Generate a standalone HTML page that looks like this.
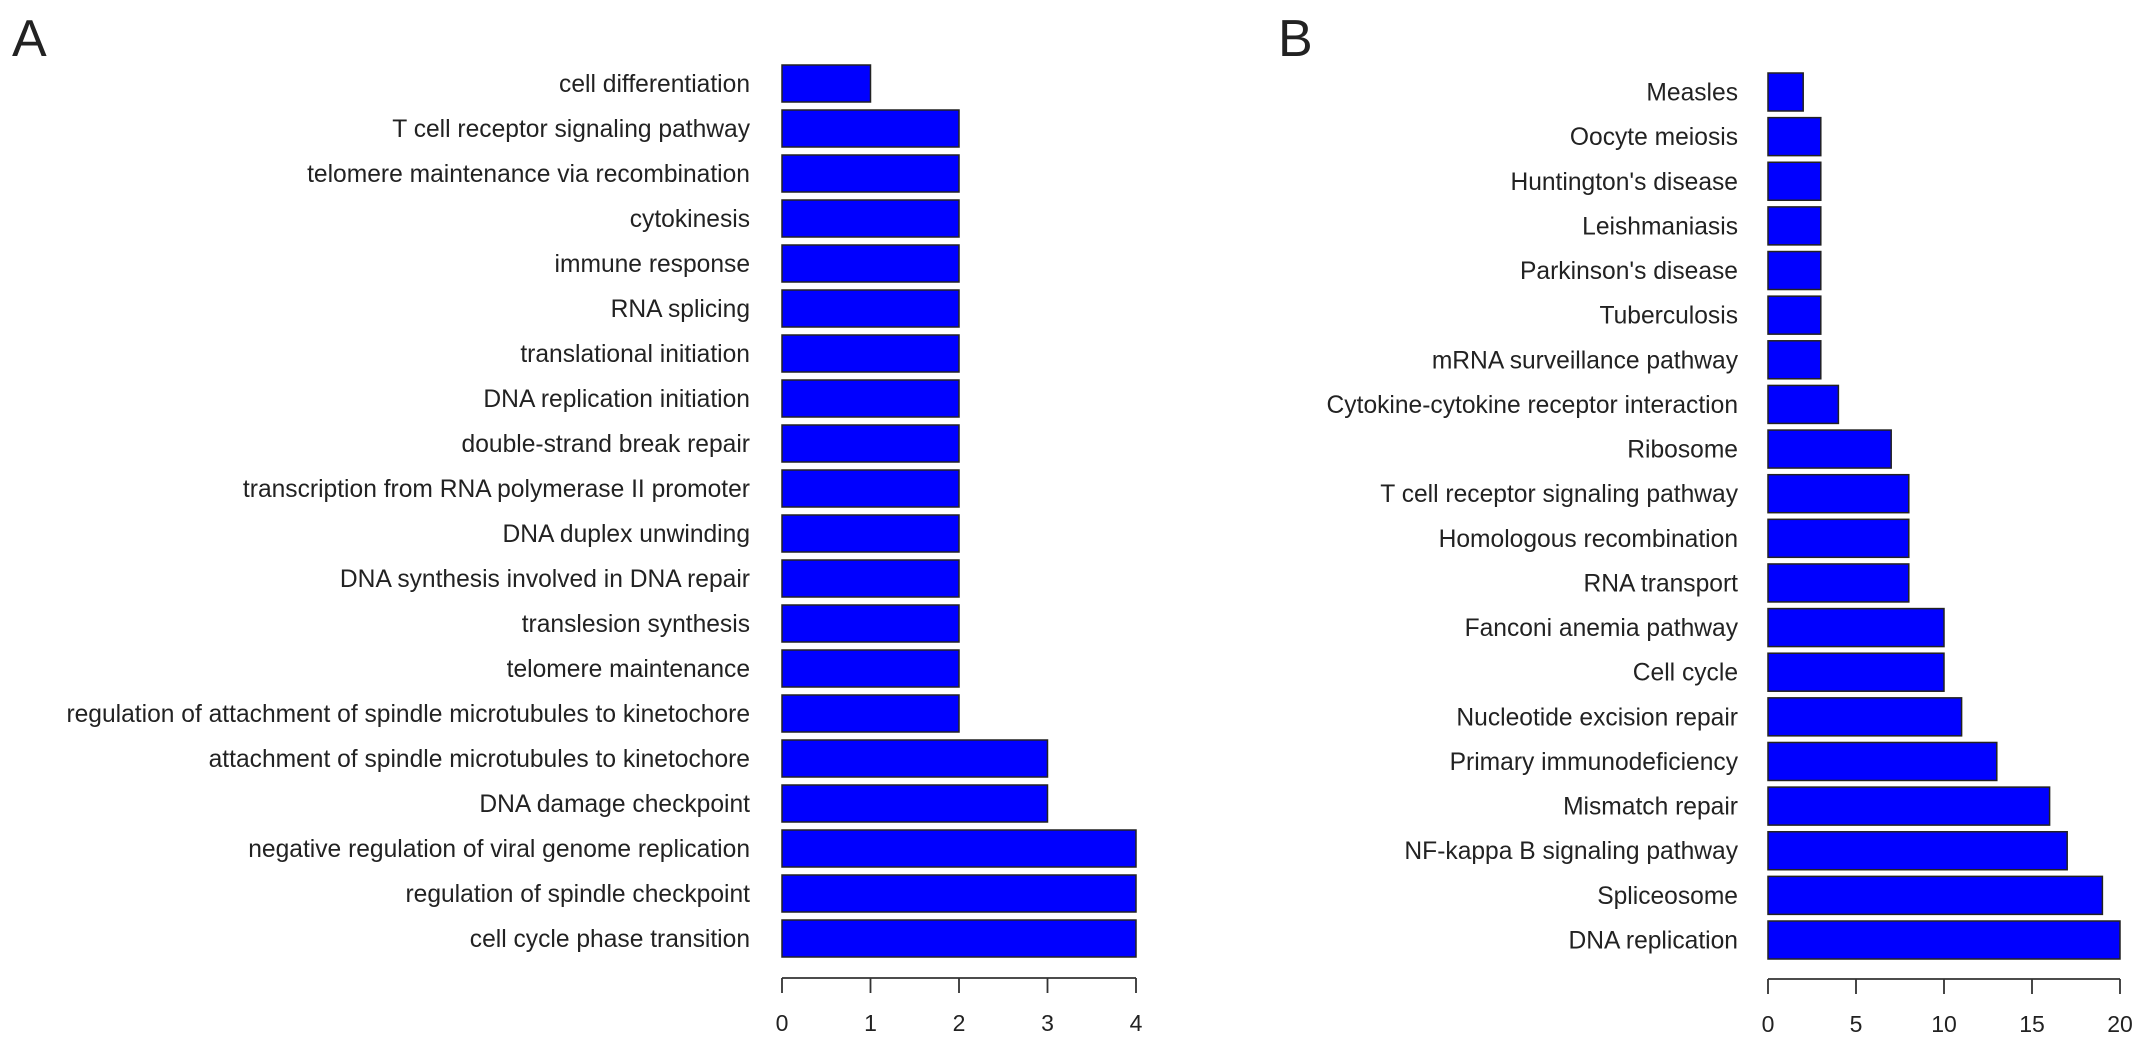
<!DOCTYPE html>
<html><head><meta charset="utf-8"><style>
html,body{margin:0;padding:0;background:#fff;}
svg text{font-family:"Liberation Sans",Arial,sans-serif;fill:#222;}
</style></head><body>
<svg id="chart" width="2150" height="1046" viewBox="0 0 2150 1046" xmlns="http://www.w3.org/2000/svg">
<text x="12" y="56" font-size="52">A</text>
<text x="1278" y="56" font-size="52">B</text>
<g id="ga"></g>
<g id="gb"></g>
</svg>
<script>
const catsA = ["cell differentiation","T cell receptor signaling pathway","telomere maintenance via recombination","cytokinesis","immune response","RNA splicing","translational initiation","DNA replication initiation","double-strand break repair","transcription from RNA polymerase II promoter","DNA duplex unwinding","DNA synthesis involved in DNA repair","translesion synthesis","telomere maintenance","regulation of attachment of spindle microtubules to kinetochore","attachment of spindle microtubules to kinetochore","DNA damage checkpoint","negative regulation of viral genome replication","regulation of spindle checkpoint","cell cycle phase transition"];
const valsA = [1,2,2,2,2,2,2,2,2,2,2,2,2,2,2,3,3,4,4,4];
const ticksA = [0,1,2,3,4];
const catsB = ["Measles","Oocyte meiosis","Huntington's disease","Leishmaniasis","Parkinson's disease","Tuberculosis","mRNA surveillance pathway","Cytokine-cytokine receptor interaction","Ribosome","T cell receptor signaling pathway","Homologous recombination","RNA transport","Fanconi anemia pathway","Cell cycle","Nucleotide excision repair","Primary immunodeficiency","Mismatch repair","NF-kappa B signaling pathway","Spliceosome","DNA replication"];
const valsB = [2,3,3,3,3,3,3,4,7,8,8,8,10,10,11,13,16,17,19,20];
const ticksB = [0,5,10,15,20];
const NS="http://www.w3.org/2000/svg";
function mk(tag,attrs,parent){const e=document.createElementNS(NS,tag);for(const k in attrs)e.setAttribute(k,attrs[k]);parent.appendChild(e);return e;}
function draw(g,cats,vals,ticks,x0,x1,maxV,top,bottom,barH,labelX,axisY,pfx){
  const xs=v=>x0+(x1-x0)*v/maxV;
  const n=cats.length;
  const pitch=(bottom-barH-top)/(n-1);
  cats.forEach((c,i)=>{
    const y=top+i*pitch;
    const r=mk('rect',{x:xs(0),y:y,width:xs(vals[i])-xs(0),height:barH,fill:'#0000ff',stroke:'#222','stroke-width':1.5},g);
    
    
    const t=mk('text',{x:labelX,y:y+barH/2+8.5,'font-size':24.6,'text-anchor':'end'},g);
    t.textContent=c;
    
    
  });
  const ax=mk('line',{x1:xs(ticks[0]),x2:xs(ticks[ticks.length-1]),y1:axisY,y2:axisY,stroke:'#333','stroke-width':1.8},g);
  
  
  ticks.forEach(v=>{
    const tk=mk('line',{x1:xs(v),x2:xs(v),y1:axisY,y2:axisY+15,stroke:'#333','stroke-width':1.8},g);
    
    
    const tl=mk('text',{x:xs(v),y:axisY+53,'font-size':23,'text-anchor':'middle'},g);
    tl.textContent=v;
    
    
  });
}
draw(document.getElementById('ga'),catsA,valsA,ticksA,782,1136,4,65,957,37,750,978,'a');
draw(document.getElementById('gb'),catsB,valsB,ticksB,1768,2120,20,73,959,38,1738,979,'b');
</script>
</body></html>
